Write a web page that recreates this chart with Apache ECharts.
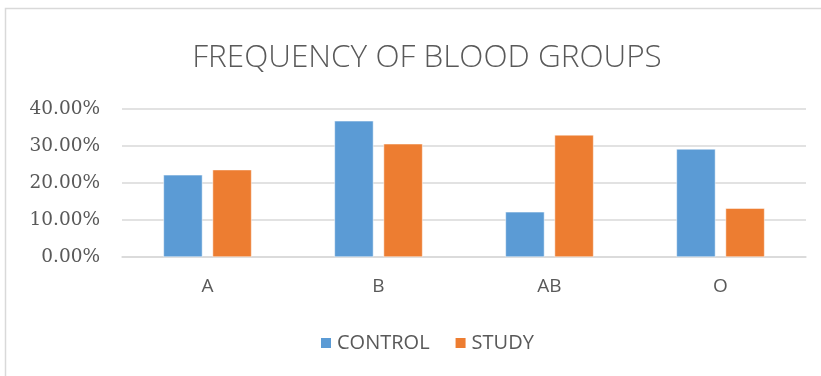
<!DOCTYPE html>
<html><head><meta charset="utf-8">
<script src="https://cdn.jsdelivr.net/npm/echarts@6/dist/echarts.min.js"></script>
<style>html,body{margin:0;padding:0;background:#fff}#c{width:821px;height:376px}</style>
</head><body><div id="c"></div>
<script>
var categories = ['A', 'B', 'AB', 'O'];
var control = [0.222, 0.368, 0.122, 0.292];
var study = [0.236, 0.306, 0.330, 0.132];
var yTicks = [0, 0.1, 0.2, 0.3, 0.4];

var chart = echarts.init(document.getElementById('c'));
var font = '"Open Sans", "DejaVu Sans", sans-serif';
chart.setOption({
  animation: false,
  backgroundColor: '#fff',
  graphic: [{type: 'rect', shape: {x: 5.5, y: 8.5, width: 830, height: 380}, style: {fill: null, stroke: '#d9d9d9', lineWidth: 1.5}, silent: true}],
  title: {text: 'FREQUENCY OF BLOOD GROUPS', left: 422, textAlign: 'center', top: 37,
    textStyle: {fontFamily: font, fontWeight: 300, fontSize: 31.5, color: '#595959'}},
  legend: {top: 328, left: 314, itemWidth: 12, itemHeight: 12, itemGap: 24, icon: 'rect',
    textStyle: {fontFamily: font, fontSize: 20, color: '#595959'}},
  grid: {left: 122, right: 15, top: 109, bottom: 119, containLabel: false},
  xAxis: {type: 'category', data: categories,
    axisLine: {lineStyle: {color: '#d9d9d9', width: 1.5}}, axisTick: {show: false},
    axisLabel: {fontFamily: font, fontSize: 19, color: '#595959', margin: 20}},
  yAxis: {type: 'value', min: 0, max: 0.4, interval: 0.1,
    axisLine: {show: false}, axisTick: {show: false},
    splitLine: {lineStyle: {color: '#d9d9d9', width: 1.5}},
    axisLabel: {fontFamily: '"DejaVu Serif", serif', fontSize: 18.5, color: '#595959', margin: 22,
      formatter: function (v) { return (v * 100).toFixed(2) + '%'; }}},
  series: [
    {name: 'CONTROL', type: 'bar', data: control, barWidth: 39, barGap: '26%',
     itemStyle: {color: '#5b9bd5', borderColor: '#ffffff', borderWidth: 0.5}},
    {name: 'STUDY', type: 'bar', data: study, barWidth: 39,
     itemStyle: {color: '#ed7d31', borderColor: '#ffffff', borderWidth: 0.5}}
  ]
});
</script></body></html>
